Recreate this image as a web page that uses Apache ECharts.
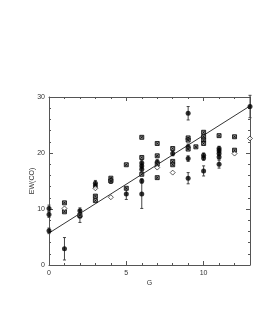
<!DOCTYPE html>
<html><head><meta charset="utf-8">
<script src="https://cdn.jsdelivr.net/npm/echarts@6/dist/echarts.min.js"></script>
<style>html,body{margin:0;padding:0;background:#fff}#c{width:253px;height:327px}</style>
</head><body><div id="c"></div>
<script>
// filled circles with error bars
const filledX   = [0,0,0,1,2,2,3,3,4,5,6,6,6,6,6,7,8,9,9,9,9,10,10,10,11,11,11,11,11,13];
const filledY   = [10.1,9.0,6.1,2.9,9.7,8.7,14.6,14.1,15.0,12.7,15.0,12.7,18.2,17.7,17.1,18.4,19.9,27.1,21.1,19.0,15.5,19.6,19.1,16.8,20.8,20.4,19.9,19.3,18.0,28.3];
const filledErr = [0.6,0.5,0.5,2.0,0.5,1.1,0.5,0.4,0.4,1.0,0.4,2.6,0.5,0.5,0.5,0.4,0.4,1.2,0.5,0.5,1.0,0.4,0.4,0.9,0.4,0.4,0.4,0.4,0.7,2.0];
// crossed-square markers
const starX = [1,1,2,3,3,4,4,5,5,6,6,6,7,7,7,7,8,8,8,9,9,9,9.5,10,10,10,10,11,12,12];
const starY = [11.1,9.5,8.9,12.3,11.5,15.5,15.0,17.9,13.7,22.8,19.2,16.2,21.7,19.5,18.0,15.6,20.8,18.5,17.9,22.7,22.3,20.7,21.1,23.7,22.9,22.3,21.7,23.1,22.9,20.5];
// open diamonds
const diaX = [1,3,4,7,8,12,13];
const diaY = [10.1,13.7,12.1,17.4,16.5,19.9,22.6];
// fitted line
const fitX = [0,13];
const fitY = [5.7,28.4];
// ticks
const xTicks = [0,5,10];
const yTicks = [0,10,20,30];

const zip = (a,b) => a.map((v,i)=>[v,b[i]]);
const chart = echarts.init(document.getElementById('c'));
const font = 'Liberation Sans';
const axCol = '#555';
const baseAxis = {
  axisLine:{show:true,onZero:false,lineStyle:{color:axCol,width:1}},
  axisTick:{show:true,inside:true,length:4,lineStyle:{color:axCol}},
  minorTick:{show:true,splitNumber:5,length:2,lineStyle:{color:axCol}},
  splitLine:{show:false}
};
chart.setOption({
  animation:false,
  grid:{left:49,right:2,top:97,bottom:62,containLabel:false},
  xAxis:[
    Object.assign({type:'value',min:0,max:13,interval:5,position:'bottom',
      name:'G',nameLocation:'middle',nameGap:15,nameMoveOverlap:false,
      nameTextStyle:{fontFamily:font,fontSize:7,color:'#333'},
      axisLabel:{fontFamily:font,fontSize:7,color:'#333',margin:5,
        formatter:v=>xTicks.includes(v)?String(v):''}},baseAxis),
    Object.assign({type:'value',min:0,max:13,interval:5,position:'top',axisLabel:{show:false}},baseAxis)
  ],
  yAxis:[
    Object.assign({type:'value',min:0,max:30,interval:10,position:'left',
      name:'EW(CO)',nameLocation:'middle',nameGap:13,nameRotate:90,nameMoveOverlap:false,
      nameTextStyle:{fontFamily:font,fontSize:7,color:'#333'},
      axisLabel:{fontFamily:font,fontSize:7,color:'#333',margin:4,
        formatter:v=>yTicks.includes(v)?String(v):''}},baseAxis),
    Object.assign({type:'value',min:0,max:30,interval:10,position:'right',axisLabel:{show:false}},baseAxis)
  ],
  series:[
    {type:'line',data:zip(fitX,fitY),symbol:'none',lineStyle:{color:'#000',width:0.8},z:2},
    {type:'custom',z:3,
      data:filledX.map((x,i)=>[x,filledY[i],filledErr[i]]),
      renderItem:(params,api)=>{
        const x=api.value(0),y=api.value(1),e=api.value(2);
        const p1=api.coord([x,y+e]),p2=api.coord([x,y-e]);
        const c=1.5;
        return {type:'group',children:[
          {type:'line',shape:{x1:p1[0],y1:p1[1],x2:p2[0],y2:p2[1]},style:{stroke:'#444',lineWidth:1}},
          {type:'line',shape:{x1:p1[0]-c,y1:p1[1],x2:p1[0]+c,y2:p1[1]},style:{stroke:'#444',lineWidth:1}},
          {type:'line',shape:{x1:p2[0]-c,y1:p2[1],x2:p2[0]+c,y2:p2[1]},style:{stroke:'#444',lineWidth:1}}
        ]};
      }},
    {type:'scatter',z:4,data:zip(filledX,filledY),symbol:'circle',symbolSize:5,itemStyle:{color:'#000'}},
    {type:'scatter',z:4,data:zip(starX,starY),
      symbol:'path://M0,0L10,0L10,10L0,10Z M2,2L8,8 M8,2L2,8',symbolSize:4,
      itemStyle:{color:'#777',borderColor:'#000',borderWidth:1}},
    {type:'scatter',z:4,data:zip(diaX,diaY),symbol:'diamond',symbolSize:5,
      itemStyle:{color:'#fff',borderColor:'#000',borderWidth:0.8}}
  ]
});
</script></body></html>
